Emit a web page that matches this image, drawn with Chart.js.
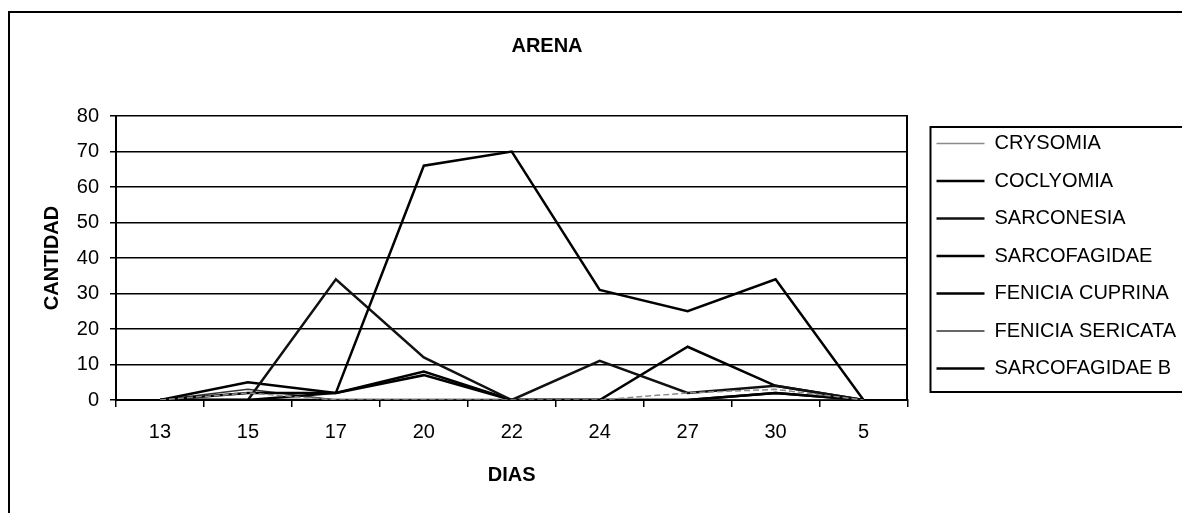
<!DOCTYPE html>
<html>
<head>
<meta charset="utf-8">
<script src="https://cdn.jsdelivr.net/npm/chart.js@4.4.1/dist/chart.umd.min.js"></script>
<style>
    html, body { margin: 0; padding: 0; background: #fff; }
    #wrap { position: relative; width: 1182px; height: 513px; overflow: hidden; }
    #frame { position: absolute; left: 8px; top: 11px; width: 1200px; height: 510px; border-top: 2px solid #000; border-left: 2px solid #000; }
    #arena { position: absolute; left: 0; top: 0; }
</style>
</head>
<body>
<div id="wrap">
    <div id="frame"></div>
    <canvas id="arena" width="1182" height="513"></canvas>
</div>
<script>
const dias = ['13', '15', '17', '20', '22', '24', '27', '30', '5'];

const crysomia        = [0, 2, 0, 0, 0, 0, 2, 3, 0];
const coclyomia       = [0, 0, 2, 66, 70, 31, 25, 34, 0];
const sarconesia      = [0, 0, 34, 12, 0, 11, 2, 4, 0];
const sarcofagidae    = [0, 5, 2, 8, 0, 0, 0, 2, 0];
const feniciaCuprina  = [0, 2, 2, 7, 0, 0, 15, 4, 0];
const feniciaSericata = [0, 3, 0, 0, 0, 0, 0, 0, 0];
const sarcofagidaeB   = [0, 0, 0, 0, 0, 0, 0, 2, 0];

const yTicks = [0, 10, 20, 30, 40, 50, 60, 70, 80];

const FONT = "'Liberation Sans', Arial, sans-serif";

const serie = (label, data, color, width, dash) => ({
    label: label,
    data: data,
    borderColor: color,
    backgroundColor: color,
    borderWidth: width,
    borderDash: dash || [],
    pointRadius: 0,
    tension: 0,
    fill: false
});

// title drawn over the plot, slightly right of the plot centre like the original
const titlePlugin = {
    id: 'arenaTitle',
    afterDraw(chart) {
        const ctx = chart.ctx;
        ctx.save();
        ctx.font = 'bold 20px ' + FONT;
        ctx.fillStyle = '#000';
        ctx.textAlign = 'center';
        ctx.textBaseline = 'middle';
        ctx.fillText('ARENA', 547, 46);
        ctx.restore();
    }
};

// box round the legend
const legendBox = {
    id: 'legendBox',
    afterDraw(chart) {
        const hb = chart.legend.legendHitBoxes;
        if (!hb || !hb.length) return;
        const last = hb[hb.length - 1];
        const ctx = chart.ctx;
        ctx.save();
        ctx.strokeStyle = '#000';
        ctx.lineWidth = 2;
        const x = hb[0].left - 6;
        const top = hb[0].top - 6.5;
        const bottom = last.top + last.height + 13.5;
        ctx.strokeRect(x, top, 1300 - x, bottom - top);
        ctx.restore();
    }
};

new Chart(document.getElementById('arena'), {
    type: 'line',
    data: {
        labels: dias,
        datasets: [
            serie('CRYSOMIA', crysomia, '#8a8a8a', 1.5, [6, 3]),
            serie('COCLYOMIA', coclyomia, '#000', 2.5),
            serie('SARCONESIA', sarconesia, '#111', 2.5),
            serie('SARCOFAGIDAE', sarcofagidae, '#000', 2.5),
            serie('FENICIA CUPRINA', feniciaCuprina, '#000', 2.5),
            serie('FENICIA SERICATA', feniciaSericata, '#333', 1.5),
            serie('SARCOFAGIDAE B', sarcofagidaeB, '#000', 2.5)
        ]
    },
    options: {
        responsive: false,
        animation: false,
        devicePixelRatio: 1,
        layout: { padding: { left: 36, top: 116, right: -4, bottom: 22 } },
        plugins: {
            title: { display: false },
            tooltip: { enabled: false },
            legend: {
                position: 'right',
                align: 'start',
                maxWidth: 320,
                labels: {
                    usePointStyle: true,
                    pointStyle: 'line',
                    pointStyleWidth: 48,
                    boxWidth: 48,
                    padding: 17.5,
                    color: '#000',
                    font: { size: 20, family: FONT }
                }
            }
        },
        scales: {
            x: {
                offset: true,
                grid: {
                    offset: true,
                    drawOnChartArea: false,
                    drawTicks: true,
                    tickLength: 7,
                    color: '#000',
                    lineWidth: 1.5
                },
                border: { display: true, color: '#000', width: 2 },
                ticks: {
                    color: '#000',
                    padding: 13,
                    autoSkip: false,
                    maxRotation: 0,
                    font: { size: 20, family: FONT }
                },
                title: {
                    display: true,
                    text: 'DIAS',
                    color: '#000',
                    font: { size: 20, weight: 'bold', family: FONT }
                },
                afterFit(s) { s.height = 91; }
            },
            y: {
                min: 0,
                max: 80,
                afterBuildTicks(s) { s.ticks = yTicks.map(v => ({ value: v })); },
                grid: { color: '#000', lineWidth: 1.5, tickLength: 6 },
                border: { display: true, color: '#000', width: 2 },
                ticks: {
                    color: '#000',
                    padding: 11,
                    font: { size: 20, family: FONT }
                },
                title: {
                    display: true,
                    text: 'CANTIDAD',
                    color: '#000',
                    font: { size: 20, weight: 'bold', family: FONT }
                },
                afterFit(s) { s.width = 80; }
            },
            y2: {
                type: 'linear',
                position: 'right',
                display: true,
                grid: { display: false, drawTicks: false },
                ticks: { display: false },
                border: { display: true, color: '#000', width: 2 },
                afterFit(s) { s.width = 11.5; }
            }
        }
    },
    plugins: [titlePlugin, legendBox]
});
</script>
</body>
</html>
